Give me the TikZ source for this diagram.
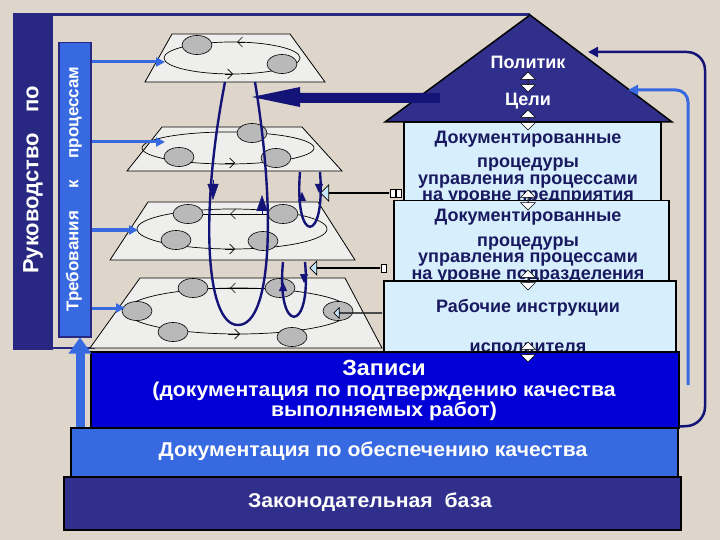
\documentclass[tikz,border=0pt]{standalone}
\usepackage{fontspec}
\setmainfont{Liberation Sans}
\usetikzlibrary{shapes.geometric,shapes.arrows,arrows.meta}
\definecolor{bg}{RGB}{222,214,202}
\definecolor{navy}{RGB}{40,40,130}
\definecolor{roofc}{RGB}{48,48,140}
\definecolor{loopc}{RGB}{20,20,120}
\definecolor{midblue}{RGB}{55,105,225}
\definecolor{bright}{RGB}{0,0,215}
\definecolor{pale}{RGB}{215,238,252}
\definecolor{planec}{RGB}{238,238,236}
\definecolor{arrowlb}{RGB}{200,230,250}
\definecolor{txtnavy}{RGB}{25,25,95}
\newcommand{\fs}[1]{\fontsize{#1}{#1}\selectfont}
\newcommand{\wide}[1]{\scalebox{1.06}[1]{#1}}
\begin{document}
\begin{tikzpicture}[x=1pt,y=-1pt,
  plane/.style={draw=black,fill=planec,line width=0.8},
  cyc/.style={draw=black,line width=0.7},
  gnode/.style={ellipse,draw=black,fill=gray!55,minimum width=30,minimum height=19,inner sep=0,line width=0.6},
  lp/.style={draw=loopc,line width=2.4},
  reqarrow/.style={midblue,line width=3,-{Triangle[length=9,width=9]}},
  hollow/.style={single arrow,draw=black,fill=arrowlb,shape border rotate=180,single arrow head extend=5,inner sep=0,line width=0.7},
  box/.style={draw=black,line width=1.5,inner sep=0,anchor=north west},
  btxt/.style={text=txtnavy,font=\bfseries\fs{18},inner sep=0},
  wtxt/.style={text=white,font=\bfseries\fs{18},inner sep=0},
  dbl/.style={draw=black,fill=white,single arrow,double arrow,rotate=90,minimum height=20,minimum width=8,single arrow head extend=1.5,inner sep=0,line width=0.5}]
\fill[bg] (0,0) rectangle (720,540);
\useasboundingbox (0,0) rectangle (720,540);
% frame
\draw[navy,line width=3] (13,15) -- (530,15);
\draw[navy,line width=2] (53,348) -- (95,348);
\fill[navy] (13,13) rectangle (53,350);
\node[wtxt,rotate=90,font=\bfseries\fs{22}] (ruk) at (33,180) {Руководство\hspace{20pt}по};
\node[box,fill=midblue,draw=navy,minimum width=32,minimum height=294] (req) at (58,42) {};
\node[wtxt,rotate=90,font=\bfseries\fs{17}] (reqt) at (74,189) {Требования\hspace{22pt}к\hspace{22pt}процессам};
% planes
\draw[plane] (172,34)--(290,34)--(325,82)--(145,82)--cycle;
\draw[plane] (162,127)--(302,127)--(342,171)--(127,171)--cycle;
\draw[plane] (148,202)--(318,202)--(355,260)--(110,260)--cycle;
\draw[plane] (140,278)--(345,278)--(382,348)--(90,348)--cycle;
% cycles
\draw[cyc] (232,58) ellipse [x radius=68,y radius=16];
\draw[cyc,-{Straight Barb[length=5]}] (245,42)--(237,42);
\draw[cyc,-{Straight Barb[length=5]}] (225,74)--(233,74);
\node[gnode] (a1) at (197,45) {};
\node[gnode] (a2) at (282,64) {};
\draw[cyc] (228,148) ellipse [x radius=86,y radius=16];
\draw[cyc,-{Straight Barb[length=5]}] (225,163)--(235,163);
\node[gnode] (b1) at (252,133) {};
\node[gnode] (b2) at (179,157) {};
\node[gnode] (b3) at (276,158) {};
\draw[cyc] (232,229) ellipse [x radius=95,y radius=20];
\draw[cyc] (188,214)--(283,214);
\draw[cyc,-{Straight Barb[length=5]}] (240,214)--(230,214);
\draw[cyc,-{Straight Barb[length=5]}] (225,249)--(235,249);
\node[gnode] (c1) at (188,214) {};
\node[gnode] (c2) at (283,214) {};
\node[gnode] (c3) at (176,240) {};
\node[gnode] (c4) at (263,241) {};
\draw[cyc] (238,311) ellipse [x radius=112,y radius=23];
\draw[cyc] (193,288)--(280,288);
\draw[cyc,-{Straight Barb[length=5]}] (240,288)--(230,288);
\draw[cyc,-{Straight Barb[length=5]}] (228,334)--(240,334);
\node[gnode] (d1) at (193,288) {};
\node[gnode] (d2) at (280,288) {};
\node[gnode] (d3) at (137,311) {};
\node[gnode] (d4) at (338,311) {};
\node[gnode] (d5) at (173,332) {};
\node[gnode] (d6) at (292,337) {};
% requirement arrows
\coordinate (t1) at (165,62); \coordinate (t2) at (165,142);
\coordinate (t3) at (138,230); \coordinate (t4) at (125,308);
\draw[reqarrow] (req.east |- t1) -- (t1);
\draw[reqarrow] (req.east |- t2) -- (t2);
\draw[reqarrow] (req.east |- t3) -- (t3);
\draw[reqarrow] (req.east |- t4) -- (t4);
% loops
\draw[lp] (225,82) .. controls (200,210) and (205,325) .. (238,325) .. controls (272,325) and (276,210) .. (255,82);
\draw[loopc,-{Triangle[length=16,width=11]}] (213,180)--(213,200);
\draw[loopc,-{Triangle[length=16,width=11]}] (262,215)--(262,195);
\draw[lp] (300,172) .. controls (294,245) and (326,245) .. (320,172);
\draw[loopc,-{Triangle[length=9,width=8]}] (302,200)--(302,192);
\draw[loopc,-{Triangle[length=9,width=8]}] (319,185)--(319,193);
\draw[lp] (283,262) .. controls (276,335) and (312,335) .. (305,262);
\draw[loopc,-{Triangle[length=9,width=8]}] (283,290)--(283,282);
\draw[loopc,-{Triangle[length=9,width=8]}] (304,275)--(304,283);
% hollow arrows
\node[hollow,minimum height=68,minimum width=16] (h1) at (355,193) {};
\node[hollow,minimum height=70,minimum width=14] (h2) at (345,268) {};
\node[hollow,minimum height=48,minimum width=10] (h3) at (358,313) {};
\foreach \y/\x in {193/389,268/380,313/382}{\draw[fill=white,line width=0.5] (\x+1,\y-4) rectangle (\x+6,\y+4);}
\draw[fill=white,line width=0.5] (396,189) rectangle (401,197);
% pyramid
\draw[fill=roofc,draw=black,line width=1.5] (530,15)--(672,122)--(385,122)--cycle;
\node[box,fill=pale,minimum width=257,minimum height=78] (b1x) at (403,122) {};
\node[btxt] at (528,139) {Документированные};
\node[btxt] at (528,165) {процедуры};
\node[btxt] at (528,182) {управления процессами};
\node[btxt] at (528,198) {на уровне предприятия};
\node[box,fill=pale,minimum width=275,minimum height=80] (b2x) at (393,200) {};
\node[btxt] at (528,217) {Документированные};
\node[btxt] at (528,244) {процедуры};
\node[btxt] at (528,260) {управления процессами};
\node[btxt] at (528,277) {на уровне подразделения};
\node[box,fill=pale,minimum width=292,minimum height=75] (b3x) at (383,280) {};
\node[btxt] at (528,308) {Рабочие инструкции};
\node[btxt] at (528,348) {исполнителя};
\node[wtxt] (pol) at (528,62) {Политик};
\node[wtxt] (cel) at (528,101) {Цели};
\node[dbl] at (528,82) {};
\node[dbl] at (528,120) {};
\node[dbl] at (528,200) {};
\node[dbl] at (528,280) {};
\fill[loopc] (440,93)--(300,93)--(300,87)--(252,97)--(300,107)--(300,103)--(440,103)--cycle;
% bottom layers
\node[box,fill=bright,minimum width=588,minimum height=76] (zap) at (90,351) {};
\node[dbl] at (528,352) {};
\node[wtxt,font=\bfseries\fs{22}] at (384,368) {\wide{Записи}};
\node[wtxt,font=\bfseries\fs{20}] at (384,391) {\wide{(документация по подтверждению качества}};
\node[wtxt,font=\bfseries\fs{20}] at (384,411) {\wide{выполняемых работ)}};
\node[box,fill=midblue,minimum width=607,minimum height=49] (doc) at (70,427) {};
\node[wtxt,font=\bfseries\fs{20}] at (373,451) {\wide{Документация по обеспечению качества}};
\node[box,fill=roofc,minimum width=617,minimum height=53] (zak) at (63,476) {};
\node[wtxt,font=\bfseries\fs{20}] at (370,502) {\wide{Законодательная\ \ база}};
% connectors
\draw[midblue,line width=9,-{Triangle[length=16,width=22]}] (80,427) -- (req.south -| 80,0);
\draw[loopc,line width=2.5,rounded corners=18,-{Triangle[length=10,width=10]}] (zap.south east) ++(0,-2) -- (705,425) -- (705,52) -- (588,52);
\draw[midblue,line width=3,rounded corners=12,-{Triangle[length=10,width=10]}] (688,385) -- (688,90) -- (628,90);
\end{tikzpicture}
\end{document}
